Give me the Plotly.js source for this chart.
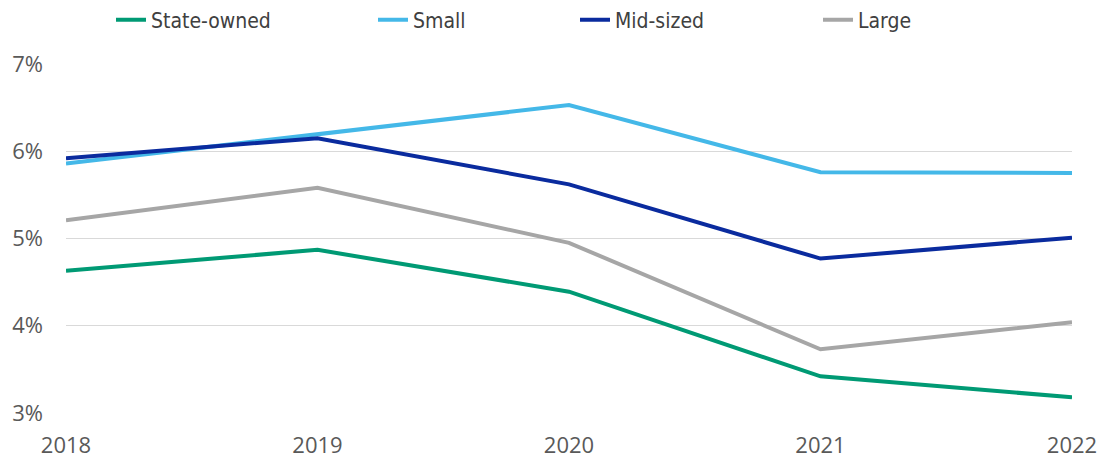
<!DOCTYPE html>
<html><head><meta charset="utf-8">
<script src="https://cdn.plot.ly/plotly-3.0.1.min.js"></script>
<style>body{margin:0;background:#fff}#c{width:1104px;height:460px}</style>
</head><body><div id="c"></div>
<script>
const years = [2018, 2019, 2020, 2021, 2022];
const stateOwned = [4.63, 4.87, 4.39, 3.42, 3.18];
const small = [5.86, 6.19, 6.53, 5.76, 5.75];
const midSized = [5.92, 6.15, 5.62, 4.77, 5.01];
const large = [5.21, 5.58, 4.95, 3.73, 4.04];
const yTicks = [3, 4, 5, 6, 7];
const yTickLabels = ['3%', '4%', '5%', '6%', '7%'];

const legFont = '"DejaVu Sans Condensed", "Open Sans", sans-serif';
const tickFont = '"Open Sans", sans-serif';
const series = [
  {name: 'State-owned', y: stateOwned, color: '#009A74', legend: 'legend'},
  {name: 'Small', y: small, color: '#44B8E8', legend: 'legend2'},
  {name: 'Mid-sized', y: midSized, color: '#0A2B9E', legend: 'legend3'},
  {name: 'Large', y: large, color: '#A6A6A6', legend: 'legend4'}
];
const order = [3, 0, 1, 2];
const traces = order.map(i => ({
  x: years, y: series[i].y, name: series[i].name, type: 'scatter', mode: 'lines',
  line: {color: series[i].color, width: 4}, legend: series[i].legend
}));
const legPos = [111, 373, 575, 818];
const legBase = {orientation: 'h', xref: 'container', yref: 'container', yanchor: 'middle',
  y: 1 - 20/460, font: {family: legFont, size: 21, color: '#404040'}, bgcolor: 'rgba(0,0,0,0)'};
const layout = {
  width: 1104, height: 460,
  margin: {l: 66, r: 32, t: 64, b: 47},
  paper_bgcolor: '#fff', plot_bgcolor: '#fff',
  showlegend: true,
  legend: Object.assign({}, legBase, {x: legPos[0]/1104}),
  legend2: Object.assign({}, legBase, {x: legPos[1]/1104}),
  legend3: Object.assign({}, legBase, {x: legPos[2]/1104}),
  legend4: Object.assign({}, legBase, {x: legPos[3]/1104}),
  xaxis: {range: [2018, 2022], tickvals: years, ticktext: years.map(String), showgrid: false,
    zeroline: false, showline: false, ticks: '', ticklabelstandoff: 17,
    tickfont: {family: tickFont, size: 22, color: '#595959'}},
  yaxis: {range: [3, 7], tickvals: yTicks, ticktext: yTickLabels, showgrid: true,
    gridcolor: '#D9D9D9', gridwidth: 1, zeroline: false, showline: false, ticks: '',
    ticklabelstandoff: 22,
    tickfont: {family: tickFont, size: 22, color: '#595959'}}
};
Plotly.newPlot('c', traces, layout, {displayModeBar: false, staticPlot: true});
</script></body></html>
